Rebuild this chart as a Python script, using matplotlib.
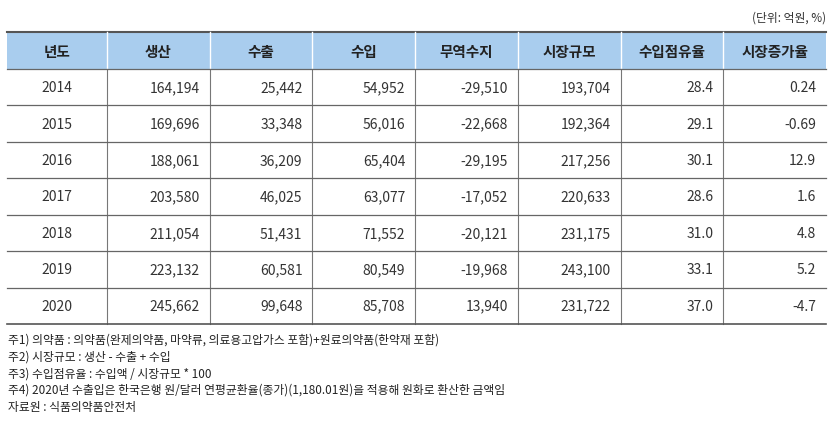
import matplotlib
matplotlib.use("Agg")
import matplotlib.pyplot as plt
from matplotlib.patches import Rectangle
from matplotlib import font_manager

headers = ["년도", "생산", "수출", "수입", "무역수지", "시장규모", "수입점유율", "시장증가율"]
years = ["2014", "2015", "2016", "2017", "2018", "2019", "2020"]
production = ["164,194", "169,696", "188,061", "203,580", "211,054", "223,132", "245,662"]
exports = ["25,442", "33,348", "36,209", "46,025", "51,431", "60,581", "99,648"]
imports = ["54,952", "56,016", "65,404", "63,077", "71,552", "80,549", "85,708"]
balance = ["-29,510", "-22,668", "-29,195", "-17,052", "-20,121", "-19,968", "13,940"]
market = ["193,704", "192,364", "217,256", "220,633", "231,175", "243,100", "231,722"]
import_share = ["28.4", "29.1", "30.1", "28.6", "31.0", "33.1", "37.0"]
growth = ["0.24", "-0.69", "12.9", "1.6", "4.8", "5.2", "-4.7"]
notes = [
    "주1) 의약품 : 의약품(완제의약품, 마약류, 의료용고압가스 포함)+원료의약품(한약재 포함)",
    "주2) 시장규모 : 생산 - 수출 + 수입",
    "주3) 수입점유율 : 수입액 / 시장규모 * 100",
    "주4) 2020년 수출입은 한국은행 원/달러 연평균환율(종가)(1,180.01원)을 적용해 원화로 환산한 금액임",
    "자료원 : 식품의약품안전처",
]
unit = "(단위: 억원, %)"

names = {f.name for f in font_manager.fontManager.ttflist}
fam = [n for n in ["Noto Sans CJK KR", "Noto Sans CJK JP", "Noto Sans CJK SC", "Noto Sans CJK TC"] if n in names]
if not fam:
    for f in font_manager.findSystemFonts():
        if "CJK" in f or "Noto" in f and "KR" in f:
            try:
                font_manager.fontManager.addfont(f)
            except Exception:
                pass
    names = {f.name for f in font_manager.fontManager.ttflist}
    fam = [n for n in names if "CJK" in n]
plt.rcParams["font.family"] = fam + ["DejaVu Sans"]

W, H = 833, 427
fig = plt.figure(figsize=(W/100, H/100), dpi=100)
ax = fig.add_axes([0, 0, 1, 1])
ax.set_xlim(0, W); ax.set_ylim(H, 0); ax.axis("off")

x0, x1 = 7, 826
bounds = [x0, 107] + [107 + (x1-107)*i/7 for i in range(1, 8)]
top, hb = 33, 70
rh = (325 - hb) / 7
ax.text(x1, 18, unit, ha="right", va="center", fontsize=8.5, color="#333333")
ax.add_patch(Rectangle((x0, top), x1-x0, hb-top, facecolor="#a9cdee", edgecolor="none"))
ax.plot([x0, x1], [top, top], color="#555555", lw=1.5)
for i, h in enumerate(headers):
    cx = (bounds[i]+bounds[i+1])/2
    ax.text(cx, (top+hb)/2, h, ha="center", va="center", fontsize=10.5, fontweight="bold", color="#222222")
for b in bounds[1:-1]:
    ax.plot([b, b], [top, hb], color="white", lw=1)
    ax.plot([b, b], [hb, 325], color="#777777", lw=0.8)
cols = [production, exports, imports, balance, market, import_share, growth]
for r in range(7):
    y0 = hb + r*rh
    ax.plot([x0, x1], [y0, y0], color="#666666", lw=0.9)
    cy = y0 + rh/2
    ax.text((bounds[0]+bounds[1])/2, cy, years[r], ha="center", va="center", fontsize=10, color="#333333")
    for c, col in enumerate(cols):
        ax.text(bounds[c+2]-10, cy, col[r], ha="right", va="center", fontsize=10, color="#333333")
ax.plot([x0, x1], [325, 325], color="#555555", lw=1.2)
for i, n in enumerate(notes):
    ax.text(8, 340 + i*16.8, n, ha="left", va="center", fontsize=8.5, color="#222222")
fig.savefig("out.png", dpi=100)
